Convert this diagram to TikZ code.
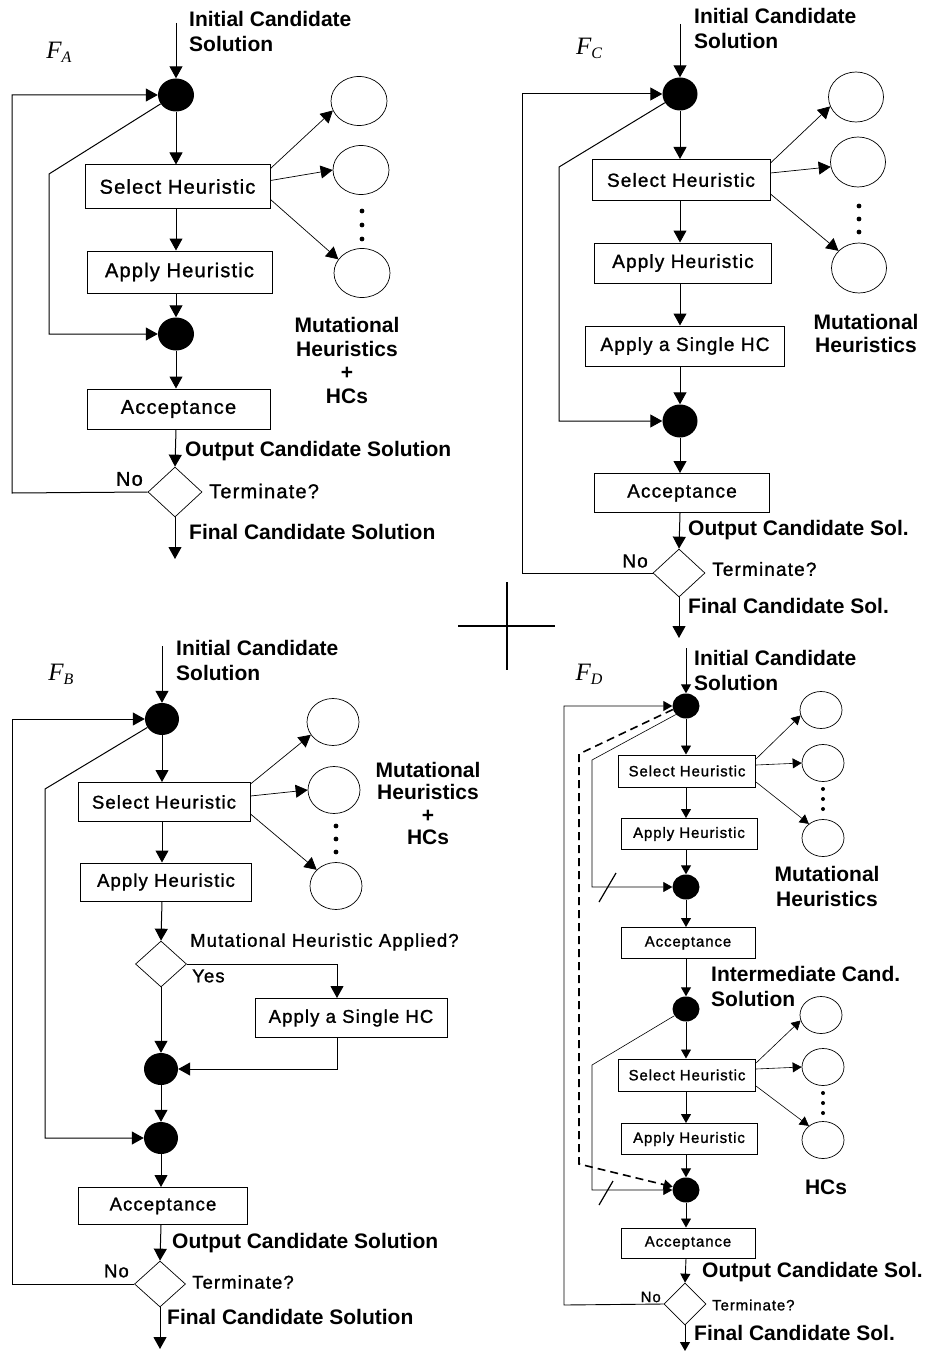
\documentclass[tikz,border=0pt]{standalone}
\usepackage{fontspec}
\setmainfont{Liberation Sans}
\newfontfamily\boxfont[LetterSpace=6,FakeBold=1.2]{Liberation Sans}
\newfontfamily\fserif{Liberation Serif}
\usetikzlibrary{arrows.meta,shapes.geometric,calc}
\newcommand{\flowname}[1]{{\fserif\itshape\fontsize{25}{25}\selectfont F}\raisebox{-4pt}{\fserif\itshape\fontsize{16}{16}\selectfont #1}}

\tikzset{
	box/.style={draw, line width=1pt, inner sep=0pt, font=\boxfont\fontsize{#1}{#1}\selectfont},
	box/.default=20,
	note/.style={inner sep=0pt, font=\boxfont\fontsize{#1}{#1}\selectfont},
	note/.default=20,
	lbl/.style={inner sep=0pt, anchor=west, align=left, font=\bfseries\fontsize{21}{25}\selectfont},
	junc/.style={ellipse, fill=black, inner sep=0pt, minimum width=36pt, minimum height=33pt},
	djunc/.style={ellipse, fill=black, inner sep=0pt, minimum width=27pt, minimum height=25pt},
	heur/.style={ellipse, draw, line width=0.7pt, inner sep=0pt, minimum width=56pt, minimum height=49pt},
	dheur/.style={ellipse, draw, line width=0.7pt, inner sep=0pt, minimum width=42pt, minimum height=37pt},
	test/.style={diamond, draw, line width=0.7pt, inner sep=0pt, minimum width=53pt, minimum height=49pt},
	flow/.style={line width=1pt, -{Triangle[length=12pt,width=13pt]}},
	link/.style={line width=0.7pt, -{Triangle[length=12pt,width=13pt]}},
	dflow/.style={line width=0.9pt, -{Triangle[length=9pt,width=10pt]}},
	dlink/.style={line width=0.6pt, -{Triangle[length=9pt,width=10pt]}},
}

\begin{document}
\begin{tikzpicture}[x=1pt,y=-1pt]
	\useasboundingbox (0,0) rectangle (927,1351);
	%%%%% F_A %%%%%
	\node (a-name) at (59,52) {\flowname{A}};
	\node[lbl] (a-in) at (189,31) {Initial Candidate\\Solution};
	\coordinate (a-start) at (176,23);
	\node[junc] (a-j1) at (176,95) {};
	\node[box, minimum width=185pt, minimum height=43pt] (a-sel) at (177.5,186.5) {Select Heuristic};
	\node[box, minimum width=185pt, minimum height=42pt] (a-app) at (179.5,272) {Apply Heuristic};
	\node[junc] (a-j2) at (176,334) {};
	\node[box, minimum width=183pt, minimum height=40pt] (a-acc) at (178.5,409) {Acceptance};
	\node[test, minimum width=54pt, minimum height=50pt] (a-term) at (175,492) {};
	\coordinate (a-end) at (175,559);
	\coordinate (a-back) at (12,493);
	\coordinate (a-skip) at (49,174);
	\node[heur] (a-h1) at (359,101) {};
	\node[heur] (a-h2) at (361,170) {};
	\node[heur] (a-h3) at (362,273) {};
	\foreach \y in {211,225,239} \fill (362,\y) circle (2.4);
	\node[lbl, anchor=center, align=center, font=\bfseries\fontsize{21}{23.7}\selectfont] (a-mut) at (347,360.5) {Mutational\\Heuristics\\+\\HCs};
	\node[lbl] (a-outl) at (185,451) {Output Candidate Solution};
	\node[note, anchor=east] (a-no) at (143,479) {No};
	\node[note, anchor=west] (a-tl) at (209,491) {Terminate?};
	\node[lbl] (a-fin) at (189,532) {Final Candidate Solution};
	
	\draw[flow] (a-start) -- (a-j1);
	\draw[flow] (a-j1) -- (a-j1 |- a-sel.north);
	\draw[flow] (a-j1 |- a-sel.south) -- (a-j1 |- a-app.north);
	\draw[flow] (a-j1 |- a-app.south) -- (a-j2);
	\draw[flow] (a-j2) -- (a-j2 |- a-acc.north);
	\draw[flow] (a-j2 |- a-acc.south) -- (a-term.north);
	\draw[flow] (a-term) -- (a-end);
	\draw[flow] (a-term.west) -- (a-back) |- (a-j1);
	\draw[flow] (a-j1.210) -- (a-skip) |- (a-j2);
	\draw[link] ([yshift=18pt]a-sel.east) -- (a-h1.200);
	\draw[link] ([yshift=6pt]a-sel.east) -- (a-h2.west);
	\draw[link] ([yshift=-13pt]a-sel.east) -- (a-h3.150);
	
	%%%%% F_C %%%%%
	\node (c-name) at (589,48) {\flowname{C}};
	\node[lbl] (c-in) at (694,28) {Initial Candidate\\Solution};
	\coordinate (c-start) at (680,24);
	\node[junc, minimum width=35pt] (c-j1) at (680,94) {};
	\node[box=19, minimum width=178pt, minimum height=41pt] (c-sel) at (681,180) {Select Heuristic};
	\node[box=19, minimum width=177pt, minimum height=40pt] (c-app) at (683,263) {Apply Heuristic};
	\node[box=19, minimum width=199pt, minimum height=40pt] (c-hc) at (685,346) {Apply a Single HC};
	\node[junc, minimum width=35pt] (c-j2) at (680,421) {};
	\node[box=19, minimum width=175pt, minimum height=39pt] (c-acc) at (682,493) {Acceptance};
	\node[test, minimum width=52pt, minimum height=48pt] (c-term) at (679,573) {};
	\coordinate (c-end) at (679,638);
	\coordinate (c-back) at (522,573);
	\coordinate (c-skip) at (559,167);
	\node[heur, minimum width=55pt, minimum height=50pt] (c-h1) at (856,97) {};
	\node[heur, minimum width=55pt, minimum height=50pt] (c-h2) at (858,162) {};
	\node[heur, minimum width=55pt, minimum height=50pt] (c-h3) at (859,268) {};
	\foreach \y in {206,219,232} \fill (859,\y) circle (2.4);
	\node[lbl, anchor=center, align=center, font=\bfseries\fontsize{21}{23}\selectfont] (c-mut) at (866,333.5) {Mutational\\Heuristics};
	\node[lbl] (c-outl) at (688,530) {Output Candidate Sol.};
	\node[note=19, anchor=east] (c-no) at (648,561) {No};
	\node[note=19, anchor=west] (c-tl) at (712,569) {Terminate?};
	\node[lbl] (c-fin) at (688,606) {Final Candidate Sol.};
	
	\draw[flow] (c-start) -- (c-j1);
	\draw[flow] (c-j1) -- (c-j1 |- c-sel.north);
	\draw[flow] (c-j1 |- c-sel.south) -- (c-j1 |- c-app.north);
	\draw[flow] (c-j1 |- c-app.south) -- (c-j1 |- c-hc.north);
	\draw[flow] (c-j1 |- c-hc.south) -- (c-j2);
	\draw[flow] (c-j2) -- (c-j2 |- c-acc.north);
	\draw[flow] (c-j2 |- c-acc.south) -- (c-term.north);
	\draw[flow] (c-term) -- (c-end);
	\draw[flow] (c-term.west) -- (c-back) |- (c-j1);
	\draw[flow] (c-j1.210) -- (c-skip) |- (c-j2);
	\draw[link] ([yshift=17pt]c-sel.east) -- (c-h1.200);
	\draw[link] ([yshift=7pt]c-sel.east) -- (c-h2.190);
	\draw[link] ([yshift=-14pt]c-sel.east) -- (c-h3.140);
	
	%%%%% F_B %%%%%
	\node (b-name) at (61,674) {\flowname{B}};
	\node[lbl] (b-in) at (176,660.5) {Initial Candidate\\Solution};
	\coordinate (b-start) at (162,646);
	\node[junc, minimum width=34pt, minimum height=32pt] (b-j1) at (162,719) {};
	\node[box=18.5, minimum width=172pt, minimum height=39pt] (b-sel) at (164,802) {Select Heuristic};
	\node[box=18.5, minimum width=171pt, minimum height=38pt] (b-app) at (166,882) {Apply Heuristic};
	\node[test, minimum width=51pt, minimum height=46pt] (b-mh) at (161,964) {};
	\node[note=18.5, anchor=west] (b-mhl) at (190,942) {Mutational Heuristic Applied?};
	\node[note=18.5, anchor=west] (b-yes) at (192,976) {Yes};
	\node[box=18.5, minimum width=192pt, minimum height=39pt] (b-hc) at (351,1018) {Apply a Single HC};
	\node[junc, minimum width=34pt, minimum height=32pt] (b-j3) at (161,1069) {};
	\node[junc, minimum width=34pt, minimum height=32pt] (b-j4) at (161,1138) {};
	\node[box=18.5, minimum width=169pt, minimum height=37pt] (b-acc) at (163,1206) {Acceptance};
	\node[test, minimum width=51pt, minimum height=46pt] (b-term) at (160,1284) {};
	\coordinate (b-end) at (160,1349);
	\coordinate (b-back) at (12,1284);
	\coordinate (b-skip) at (45,789);
	\node[heur, minimum width=52pt, minimum height=47pt] (b-h1) at (333,722) {};
	\node[heur, minimum width=52pt, minimum height=47pt] (b-h2) at (334,790) {};
	\node[heur, minimum width=52pt, minimum height=47pt] (b-h3) at (336,886) {};
	\foreach \y in {826,839,852} \fill (336,\y) circle (2.4);
	\node[lbl, anchor=center, align=center, font=\bfseries\fontsize{21}{22.4}\selectfont] (b-mut) at (428,803.5) {Mutational\\Heuristics\\+\\HCs};
	\node[lbl] (b-outl) at (172,1243) {Output Candidate Solution};
	\node[note=18.5, anchor=east] (b-no) at (129,1271) {No};
	\node[note=18.5, anchor=west] (b-tl) at (192,1282) {Terminate?};
	\node[lbl] (b-fin) at (167,1317) {Final Candidate Solution};
	
	\draw[flow] (b-start) -- (b-j1);
	\draw[flow] (b-j1) -- (b-j1 |- b-sel.north);
	\draw[flow] (b-j1 |- b-sel.south) -- (b-j1 |- b-app.north);
	\draw[flow] (b-j1 |- b-app.south) -- (b-mh.north);
	\draw[flow] (b-mh.east) -| ([xshift=-14pt]b-hc.north);
	\draw[flow] ([xshift=-14pt]b-hc.south) |- (b-j3);
	\draw[flow] (b-mh) -- (b-j3);
	\draw[flow] (b-j3) -- (b-j4);
	\draw[flow] (b-j4) -- (b-j4 |- b-acc.north);
	\draw[flow] (b-j4 |- b-acc.south) -- (b-term.north);
	\draw[flow] (b-term) -- (b-end);
	\draw[flow] (b-term.west) -- (b-back) |- (b-j1);
	\draw[flow] (b-j1.210) -- (b-skip) |- (b-j4);
	\draw[link] ([yshift=18pt]b-sel.east) -- (b-h1.210);
	\draw[link] ([yshift=6pt]b-sel.east) -- (b-h2.west);
	\draw[link] ([yshift=-12pt]b-sel.east) -- (b-h3.140);
	
	%%%%% F_D %%%%%
	\node (d-name) at (589,674) {\flowname{D}};
	\node[lbl] (d-in) at (694,670.5) {Initial Candidate\\Solution};
	\coordinate (d-start) at (686,648);
	\node[djunc] (d-j1) at (686,706) {};
	\node[box=15, minimum width=137pt, minimum height=32pt] (d-sel1) at (687,771) {Select Heuristic};
	\node[box=15, minimum width=136pt, minimum height=31pt] (d-app1) at (689,834) {Apply Heuristic};
	\node[djunc] (d-j2) at (686,887) {};
	\node[box=15, minimum width=134pt, minimum height=31pt] (d-acc1) at (688,943) {Acceptance};
	\node[lbl] (d-mid) at (711,986.5) {Intermediate Cand.\\Solution};
	\node[djunc] (d-j3) at (686,1009) {};
	\node[box=15, minimum width=137pt, minimum height=32pt] (d-sel2) at (687,1075) {Select Heuristic};
	\node[box=15, minimum width=136pt, minimum height=31pt] (d-app2) at (689,1139) {Apply Heuristic};
	\node[djunc] (d-j4) at (686,1190) {};
	\node[box=15, minimum width=134pt, minimum height=30pt] (d-acc2) at (688,1243) {Acceptance};
	\node[test, minimum width=42pt, minimum height=42pt] (d-term) at (685,1304) {};
	\coordinate (d-end) at (685,1351);
	\coordinate (d-back) at (564,1305);
	\coordinate (d-skip1) at (592,760);
	\coordinate (d-skip2) at (592,1065);
	\coordinate (d-dtop) at (579,754);
	\coordinate (d-dbot) at (579,1164);
	\node[dheur] (d-h1) at (821,710) {};
	\node[dheur] (d-h2) at (823,763) {};
	\node[dheur] (d-h3) at (823,838) {};
	\node[dheur] (d-h4) at (821,1015) {};
	\node[dheur] (d-h5) at (823,1067) {};
	\node[dheur] (d-h6) at (823,1140) {};
	\foreach \y in {789,799,809,1093,1103,1113} \fill (823,\y) circle (2);
	\node[lbl, anchor=center, align=center] (d-mut) at (827,886.5) {Mutational\\Heuristics};
	\node[lbl, anchor=center] (d-hcs) at (826,1187) {HCs};
	\node[lbl] (d-outl) at (702,1272) {Output Candidate Sol.};
	\node[note=15, anchor=east] (d-no) at (661,1297) {No};
	\node[note=15, anchor=west] (d-tl) at (712,1305) {Terminate?};
	\node[lbl] (d-fin) at (694,1333) {Final Candidate Sol.};
	
	\draw[dflow] (d-start) -- (d-j1);
	\draw[dflow] (d-j1) -- (d-j1 |- d-sel1.north);
	\draw[dflow] (d-j1 |- d-sel1.south) -- (d-j1 |- d-app1.north);
	\draw[dflow] (d-j1 |- d-app1.south) -- (d-j2);
	\draw[dflow] (d-j2) -- (d-j2 |- d-acc1.north);
	\draw[dflow] (d-j2 |- d-acc1.south) -- (d-j3);
	\draw[dflow] (d-j3) -- (d-j3 |- d-sel2.north);
	\draw[dflow] (d-j3 |- d-sel2.south) -- (d-j3 |- d-app2.north);
	\draw[dflow] (d-j3 |- d-app2.south) -- (d-j4);
	\draw[dflow] (d-j4) -- (d-j4 |- d-acc2.north);
	\draw[dflow] (d-j4 |- d-acc2.south) -- (d-term.north);
	\draw[dflow] (d-term) -- (d-end);
	\draw[dflow] (d-term.west) -- (d-back) |- (d-j1);
	\draw[dlink] (d-j1.220) -- (d-skip1) |- (d-j2);
	\draw[dlink] (d-j3.210) -- (d-skip2) |- (d-j4);
	\draw[dflow, line width=1.6pt, dash pattern=on 8pt off 5pt] (d-j1.195) -- (d-dtop) -- (d-dbot) -- (d-j4);
	\draw[line width=1.2pt] (599,902) -- (616,873);
	\draw[line width=1.2pt] (599,1205) -- (613,1181);
	\draw[dlink] ([yshift=12pt]d-sel1.east) -- (d-h1.195);
	\draw[dlink] ([yshift=6pt]d-sel1.east) -- (d-h2.west);
	\draw[dlink] ([yshift=-11pt]d-sel1.east) -- (d-h3.135);
	\draw[dlink] ([yshift=12pt]d-sel2.east) -- (d-h4.195);
	\draw[dlink] ([yshift=6pt]d-sel2.east) -- (d-h5.west);
	\draw[dlink] ([yshift=-11pt]d-sel2.east) -- (d-h6.135);
	
	%%%%% CROSS %%%%%
	\draw[line width=2pt] (458,626) -- (555,626);
	\draw[line width=2pt] (507,582) -- (507,670);
\end{tikzpicture}
\end{document}
